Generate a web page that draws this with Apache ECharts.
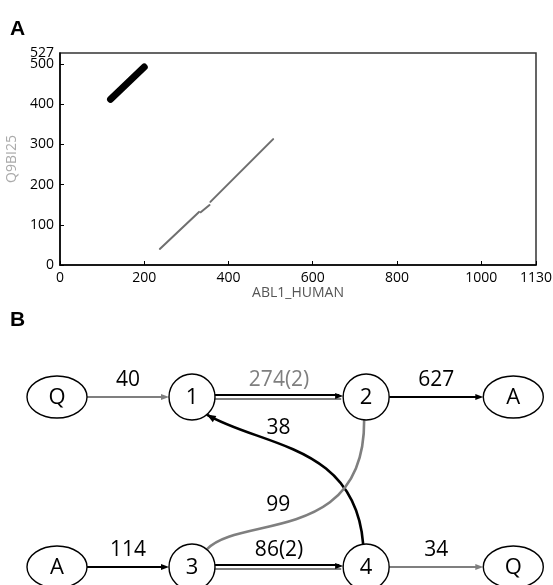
<!DOCTYPE html>
<html><head><meta charset="utf-8">
<script src="https://cdn.jsdelivr.net/npm/echarts@6/dist/echarts.min.js"></script>
<style>html,body{margin:0;padding:0;background:#fff}#c{width:553px;height:585px}</style>
</head><body><div id="c"></div>
<script>
// ---------- Panel A data (dot plot) ----------
const xAxisMax = 1130;
const yAxisMax = 527;
const blackSegment = [[120, 412], [200, 492]];
const graySegment1 = [[237, 40], [330, 132]];
const graySegment2 = [[334, 131], [355, 149]];
const graySegment3 = [[357, 157], [506, 313]];

// ---------- Panel B data (graph) ----------
const nodeLabels = ['Q', '1', '2', 'A', 'A', '3', '4', 'Q'];
const nodeColumn = [0, 1, 2, 3, 0, 1, 2, 3];
const nodeRow = [0, 0, 0, 0, 1, 1, 1, 1];
const columnPos = [0, 1, 2.29, 3.38];
const edgeFrom = [0, 1, 2, 4, 5, 6, 6, 5];
const edgeTo = [1, 2, 3, 5, 6, 7, 1, 2];
const edgeLabels = ['40', '274(2)', '627', '114', '86(2)', '34', '38', '99'];
const edgeKind = ['gray', 'double', 'black', 'black', 'double', 'gray', 'black', 'gray'];

// ---------- styles ----------
const FONT = '"Open Sans", "DejaVu Sans", sans-serif';
const GRAY = '#7f7f7f';
const BLACK = '#000';
const R_CIRCLE = 23, RX_ELL = 30, RY_ELL = 21;

const chart = echarts.init(document.getElementById('c'), null, {renderer: 'canvas'});

function isNum(i) { return /\d/.test(nodeLabels[i]); }
function nodePoint(api, i) { return api.coord([columnPos[nodeColumn[i]], nodeRow[i]]); }
function halfW(i) { return isNum(i) ? R_CIRCLE : RX_ELL; }
function halfH(i) { return isNum(i) ? R_CIRCLE : RY_ELL; }

function arrowHead(tip, dir, color, len, w) {
  const bx = tip[0] - dir[0] * len, by = tip[1] - dir[1] * len;
  const nx = -dir[1], ny = dir[0];
  return {type: 'polygon', shape: {points: [[tip[0], tip[1]], [bx + nx * w, by + ny * w], [bx - nx * w, by - ny * w]]},
    style: {fill: color}};
}
function seg(x1, y1, x2, y2, color, w) {
  return {type: 'line', shape: {x1, y1, x2, y2}, style: {stroke: color, lineWidth: w}};
}
function edgeText(x, y, txt, color) {
  return {type: 'text', style: {x, y, text: txt, fill: color, font: '21px ' + FONT, align: 'center', verticalAlign: 'middle'}};
}
function bez(p0, p1, p2, p3, t) {
  const u = 1 - t;
  return [u*u*u*p0[0] + 3*u*u*t*p1[0] + 3*u*t*t*p2[0] + t*t*t*p3[0],
          u*u*u*p0[1] + 3*u*u*t*p1[1] + 3*u*t*t*p2[1] + t*t*t*p3[1]];
}

function renderEdge(params, api) {
  const i = api.value(0);
  const s = edgeFrom[i], t = edgeTo[i];
  const a = nodePoint(api, s), b = nodePoint(api, t);
  const kind = edgeKind[i];
  const children = [];
  if (Math.abs(a[1] - b[1]) < 1) {
    const x1 = a[0] + halfW(s), x2 = b[0] - halfW(t), y = a[1];
    if (kind === 'double') {
      children.push(seg(x1, y - 2, x2 - 4, y - 2, BLACK, 2.2));
      children.push(seg(x1, y + 2, x2 - 2, y + 2, GRAY, 2.2));
      children.push(arrowHead([x2, y - 1], [1, 0], BLACK, 8, 3));
    } else {
      const col = kind === 'gray' ? GRAY : BLACK;
      children.push(seg(x1, y, x2 - 4, y, col, 2.2));
      children.push(arrowHead([x2, y], [1, 0], col, 8, 3));
    }
    const labCol = (edgeLabels[i].indexOf('(') >= 0 && nodeRow[s] === 0) ? GRAY : BLACK;
    children.push(edgeText((x1 + x2) / 2, y - 17, edgeLabels[i], labCol));
  } else if (a[1] > b[1] && isNum(s) && nodeColumn[s] > nodeColumn[t]) {
    const ang = 50 * Math.PI / 180;
    const p0 = [a[0] - 3, a[1] - halfH(s)];
    const p3 = [b[0] + R_CIRCLE * Math.cos(ang), b[1] + R_CIRCLE * Math.sin(ang)];
    const p1 = [p0[0] - 8, p0[1] - 100];
    const p2 = [p3[0] + 55, p3[1] + 32];
    const col = kind === 'gray' ? GRAY : BLACK;
    children.push({type: 'bezierCurve', shape: {x1: p0[0], y1: p0[1], x2: p3[0], y2: p3[1],
      cpx1: p1[0], cpy1: p1[1], cpx2: p2[0], cpy2: p2[1]}, style: {stroke: col, lineWidth: 2.6, fill: null}});
    let dx = p3[0] - p2[0], dy = p3[1] - p2[1];
    const L = Math.hypot(dx, dy); dx /= L; dy /= L;
    children.push(arrowHead(p3, [dx, dy], col, 9, 3.5));
    const m = bez(p0, p1, p2, p3, 0.5);
    children.push(edgeText(m[0] - 24, m[1] - 26, edgeLabels[i], BLACK));
  } else {
    const ang = 50 * Math.PI / 180;
    const p0 = [a[0] + halfW(s) * Math.cos(ang), a[1] - halfH(s) * Math.sin(ang)];
    const p3 = [b[0] - 2, b[1] + halfH(t)];
    const p1 = [p0[0] + 33, p0[1] - 35];
    const p2 = [p3[0] + 1, p3[1] + 125];
    const col = kind === 'gray' ? GRAY : BLACK;
    children.push({type: 'bezierCurve', shape: {x1: p0[0], y1: p0[1], x2: p3[0], y2: p3[1],
      cpx1: p1[0], cpy1: p1[1], cpx2: p2[0], cpy2: p2[1]}, style: {stroke: col, lineWidth: 2.6, fill: null}});
    const m = bez(p0, p1, p2, p3, 0.5);
    children.push(edgeText(m[0] - 20, m[1] - 13, edgeLabels[i], BLACK));
  }
  return {type: 'group', children};
}

function renderNode(params, api) {
  const p = api.coord([api.value(0), api.value(1)]);
  const i = params.dataIndex;
  return {type: 'group', children: [
    {type: 'ellipse', shape: {cx: p[0], cy: p[1], rx: halfW(i), ry: halfH(i)},
      style: {fill: '#fff', stroke: '#000', lineWidth: 1.4}},
    {type: 'text', style: {x: p[0], y: p[1] + 1, text: nodeLabels[i], fill: '#000',
      font: '22px ' + FONT, align: 'center', verticalAlign: 'middle'}}
  ]};
}

function lineSeries(data, color, width) {
  return {type: 'line', xAxisIndex: 0, yAxisIndex: 0, data, symbol: 'none', silent: true,
    lineStyle: {color, width, cap: 'round'}, animation: false};
}

const tickLabel = {color: '#000', fontSize: 14, fontFamily: FONT, margin: 6, hideOverlap: false};

const option = {
  animation: false,
  backgroundColor: '#fff',
  title: [
    {text: 'A', left: 10, top: 19, padding: 0, textStyle: {fontSize: 21, fontWeight: 'bold', color: '#000', fontFamily: '"Liberation Sans", Arial, sans-serif'}},
    {text: 'B', left: 10, top: 310, padding: 0, textStyle: {fontSize: 21, fontWeight: 'bold', color: '#000', fontFamily: '"Liberation Sans", Arial, sans-serif'}}
  ],
  grid: [
    {left: 60, top: 53, width: 476, height: 212, show: true, borderColor: '#333', borderWidth: 1.5,
      backgroundColor: 'transparent', containLabel: false, outerBoundsMode: 'none'},
    {left: 57, top: 397, width: 456.3, height: 170, show: false, containLabel: false, outerBoundsMode: 'none'}
  ],
  xAxis: [
    {type: 'value', gridIndex: 0, min: 0, max: xAxisMax, interval: 200,
      name: 'ABL1_HUMAN', nameLocation: 'middle', nameGap: 21,
      nameTextStyle: {color: '#555', fontSize: 14, fontFamily: FONT},
      axisLine: {show: true, lineStyle: {color: '#000', width: 1.5}},
      axisTick: {show: true, inside: true, length: 4, lineStyle: {color: '#000'}},
      axisLabel: Object.assign({}, tickLabel, {showMaxLabel: true, formatter: v => String(v)}),
      splitLine: {show: false}},
    {type: 'value', gridIndex: 1, min: 0, max: 3.38, show: false}
  ],
  yAxis: [
    {type: 'value', gridIndex: 0, position: 'left', min: 0, max: yAxisMax, interval: 100,
      name: 'Q9BI25', nameLocation: 'middle', nameGap: 36, nameRotate: 90,
      nameTextStyle: {color: '#aaa', fontSize: 14, fontFamily: FONT},
      axisLine: {show: true, lineStyle: {color: '#000', width: 1.5}},
      axisTick: {show: true, inside: true, length: 4, lineStyle: {color: '#000'}},
      axisLabel: Object.assign({}, tickLabel, {showMaxLabel: false, formatter: v => String(v)}),
      splitLine: {show: false}},
    {type: 'value', gridIndex: 1, min: 0, max: 1, inverse: true, show: false},
    {type: 'value', gridIndex: 0, position: 'left', offset: 0, min: 0, max: yAxisMax, interval: yAxisMax,
      axisLine: {show: false}, axisTick: {show: false}, splitLine: {show: false},
      axisLabel: Object.assign({}, tickLabel, {showMinLabel: false, showMaxLabel: true,
        formatter: v => (v === yAxisMax ? String(v) : '')})}
  ],
  series: [
    lineSeries(blackSegment, '#000', 7),
    lineSeries(graySegment1, '#6f6f6f', 2),
    lineSeries(graySegment2, '#6f6f6f', 2),
    lineSeries(graySegment3, '#6f6f6f', 2),
    {type: 'custom', xAxisIndex: 1, yAxisIndex: 1, clip: false, silent: true,
      data: edgeLabels.map((l, i) => [i, 0]), renderItem: renderEdge, z: 2},
    {type: 'custom', xAxisIndex: 1, yAxisIndex: 1, clip: false, silent: true,
      data: nodeLabels.map((l, i) => [columnPos[nodeColumn[i]], nodeRow[i]]), renderItem: renderNode, z: 3}
  ]
};
chart.setOption(option);
</script>
</body></html>
